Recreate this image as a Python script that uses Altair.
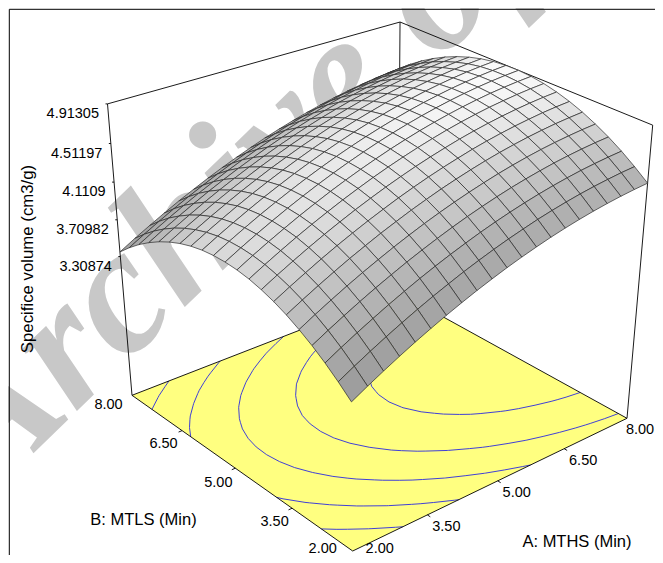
import altair as alt

# response values (cm3/g); rows: A = 2.0 .. 8.0 step 0.3, columns: B = 2.0 .. 8.0 step 0.3
Z = [
[3.299,3.420,3.529,3.625,3.708,3.780,3.839,3.885,3.920,3.941,3.950,3.947,3.932,3.904,3.863,3.810,3.745,3.667,3.578,3.475,3.360],
[3.389,3.509,3.618,3.713,3.796,3.867,3.926,3.972,4.007,4.028,4.037,4.034,4.019,3.991,3.950,3.898,3.833,3.756,3.667,3.565,3.451],
[3.474,3.594,3.702,3.797,3.879,3.950,4.008,4.054,4.089,4.110,4.119,4.116,4.101,4.073,4.033,3.981,3.916,3.839,3.752,3.650,3.536],
[3.556,3.675,3.782,3.877,3.959,4.029,4.088,4.133,4.168,4.188,4.197,4.195,4.180,4.153,4.112,4.061,3.997,3.920,3.833,3.732,3.619],
[3.634,3.752,3.859,3.953,4.034,4.105,4.163,4.208,4.242,4.263,4.272,4.269,4.255,4.228,4.188,4.136,4.073,3.997,3.910,3.810,3.698],
[3.707,3.825,3.931,4.024,4.105,4.175,4.233,4.278,4.312,4.333,4.342,4.339,4.325,4.298,4.258,4.207,4.144,4.069,3.982,3.883,3.771],
[3.777,3.894,4.000,4.093,4.173,4.243,4.300,4.345,4.379,4.400,4.409,4.406,4.392,4.365,4.326,4.275,4.212,4.137,4.052,3.953,3.842],
[3.842,3.958,4.064,4.156,4.236,4.305,4.362,4.407,4.441,4.462,4.471,4.468,4.454,4.427,4.388,4.338,4.276,4.201,4.116,4.018,3.908],
[3.904,4.020,4.124,4.216,4.296,4.365,4.422,4.466,4.500,4.520,4.529,4.527,4.513,4.487,4.448,4.398,4.336,4.262,4.177,4.080,3.970],
[3.961,4.076,4.180,4.272,4.351,4.419,4.476,4.520,4.554,4.574,4.583,4.581,4.567,4.541,4.502,4.453,4.391,4.318,4.234,4.137,4.028],
[4.015,4.129,4.233,4.324,4.402,4.471,4.527,4.571,4.604,4.625,4.634,4.631,4.618,4.592,4.554,4.504,4.443,4.370,4.287,4.190,4.083],
[4.064,4.178,4.281,4.371,4.449,4.517,4.573,4.617,4.650,4.671,4.680,4.677,4.664,4.638,4.600,4.551,4.491,4.418,4.335,4.239,4.132],
[4.109,4.222,4.325,4.415,4.492,4.560,4.615,4.659,4.692,4.713,4.722,4.719,4.706,4.680,4.643,4.594,4.534,4.462,4.380,4.284,4.178],
[4.151,4.264,4.365,4.455,4.532,4.599,4.655,4.698,4.731,4.751,4.760,4.758,4.745,4.720,4.682,4.634,4.574,4.503,4.421,4.326,4.220],
[4.188,4.300,4.401,4.490,4.567,4.634,4.689,4.732,4.765,4.785,4.794,4.792,4.779,4.754,4.717,4.669,4.609,4.538,4.457,4.363,4.258],
[4.221,4.332,4.433,4.521,4.598,4.664,4.719,4.762,4.795,4.815,4.824,4.822,4.809,4.784,4.747,4.700,4.641,4.570,4.489,4.396,4.292],
[4.250,4.361,4.461,4.549,4.625,4.691,4.745,4.788,4.821,4.841,4.850,4.848,4.835,4.810,4.774,4.727,4.668,4.598,4.518,4.425,4.321],
[4.275,4.385,4.485,4.572,4.647,4.713,4.767,4.810,4.842,4.863,4.872,4.869,4.857,4.832,4.796,4.749,4.691,4.622,4.542,4.450,4.347],
[4.296,4.405,4.504,4.591,4.666,4.732,4.786,4.828,4.860,4.880,4.889,4.887,4.875,4.851,4.815,4.768,4.710,4.641,4.562,4.471,4.369],
[4.313,4.422,4.520,4.607,4.681,4.746,4.800,4.842,4.874,4.894,4.903,4.901,4.889,4.865,4.829,4.783,4.726,4.657,4.579,4.488,4.386],
[4.326,4.434,4.532,4.618,4.692,4.757,4.810,4.852,4.884,4.904,4.913,4.911,4.899,4.875,4.840,4.794,4.737,4.669,4.591,4.501,4.400],
]
Z_TICKS = [3.30874, 3.70982, 4.1109, 4.51197, 4.91305]
Z_TICK_TEXT = ["3.30874", "3.70982", "4.1109", "4.51197", "4.91305"]
FACTOR_TICKS = [2.0, 3.5, 5.0, 6.5, 8.0]
FACTOR_TEXT = ["2.00", "3.50", "5.00", "6.50", "8.00"]
CONTOUR_LEVELS = [3.581, 3.854, 4.127, 4.399, 4.672]
Y_TITLE = "Specifice volume (cm3/g)"
A_TITLE = "A: MTHS (Min)"
B_TITLE = "B: MTLS (Min)"
WATERMARK = "Archive of SID"

N = len(Z)
Z_TOP = 4.91305


def project(a, b, z=None):
    """Perspective camera of the 3D box; a, b in minutes, z in cm3/g (None = floor)."""
    u, v = (a - 2) / 6, (b - 2) / 6
    w = 0.0 if z is None else 0.5 + 0.5 * (z - 3.30874) / 1.60431
    d = 1 + 0.12162 * u + 0.13591 * v - 0.1039 * w
    x = (352.7 + 350.56 * u - 202.76 * v - 39.0 * w) / d
    y = (551.0 - 81.83 * u - 101.97 * v - 341.8 * w) / d
    return [round(x, 2), round(y, 2)]


def grid(i):
    return 2 + 0.3 * i


def line(*pts):
    return {"type": "Feature", "properties": {}, "geometry": {"type": "LineString", "coordinates": list(pts)}}


def poly(pts, **props):
    return {"type": "Feature", "properties": props,
            "geometry": {"type": "Polygon", "coordinates": [pts + [pts[0]]]}}


cells = []
for i in range(N - 2, -1, -1):
    for j in range(N - 2, -1, -1):
        gu = ((Z[i + 1][j] + Z[i + 1][j + 1]) - (Z[i][j] + Z[i][j + 1])) / 2 * 20 / 3.2086
        gv = ((Z[i][j + 1] + Z[i + 1][j + 1]) - (Z[i][j] + Z[i + 1][j])) / 2 * 20 / 3.2086
        s = int(251 / (1 + 1.13 * gu ** 2 + 2.03 * gv ** 2) ** 0.5)
        cells.append(poly([
            project(grid(i), grid(j), Z[i][j]),
            project(grid(i + 1), grid(j), Z[i + 1][j]),
            project(grid(i + 1), grid(j + 1), Z[i + 1][j + 1]),
            project(grid(i), grid(j + 1), Z[i][j + 1]),
        ], shade=f"#{s:02x}{s:02x}{s:02x}"))

contours = []
for lv in CONTOUR_LEVELS:
    for i in range(N - 1):
        for j in range(N - 1):
            c = [(i, j), (i + 1, j), (i + 1, j + 1), (i, j + 1)]
            hits = []
            for k in range(4):
                p, q = c[k], c[(k + 1) % 4]
                zp, zq = Z[p[0]][p[1]], Z[q[0]][q[1]]
                if (zp - lv) * (zq - lv) < 0:
                    t = (lv - zp) / (zq - zp)
                    hits.append(project(grid(p[0] + t * (q[0] - p[0])), grid(p[1] + t * (q[1] - p[1]))))
            if len(hits) >= 2:
                contours.append(line(hits[0], hits[1]))

floor = [poly([project(2, 2), project(8, 2), project(8, 8), project(2, 8)])]

box = [
    line(project(8, 8), project(8, 8, Z_TOP)),
    line(project(2, 8), project(2, 8, Z_TOP), project(8, 8, Z_TOP), project(8, 2, Z_TOP), project(8, 2)),
    line(project(2, 2), project(8, 2), project(8, 8), project(2, 8), project(2, 2)),
]
for z in Z_TICKS:
    p = project(2, 8, z)
    box.append(line(p, [p[0] - 2, p[1]]))
for t in FACTOR_TICKS[1:-1]:
    box.append(line(project(t, 2), project(t, 1.93)))
    box.append(line(project(2, t), project(1.93, t)))

frame = [line([9.3, 600], [9.3, 9.3], [700, 9.3])]

labels = []
for z, s in zip(Z_TICKS, Z_TICK_TEXT):
    p = project(2, 8, z)
    labels.append({"lon": p[0] - 8.5, "lat": p[1] + 10, "text": s, "al": "right"})
for t, s in zip(FACTOR_TICKS, FACTOR_TEXT):
    p = project(t, 2)
    off = {2.0: (27, -2), 3.5: (19, 12), 5.0: (19, 12), 6.5: (19, 12), 8.0: (13, 12)}[t]
    labels.append({"lon": p[0] + off[0], "lat": p[1] + off[1], "text": s, "al": "center"})
    p = project(2, t)
    off = {2.0: (-30, -2), 3.5: (-17.5, 14), 5.0: (-17, 15), 6.5: (-18.5, 13), 8.0: (-23.5, 10)}[t]
    labels.append({"lon": p[0] + off[0], "lat": p[1] + off[1], "text": s, "al": "center"})
labels.append({"lon": 577, "lat": 541.5, "text": A_TITLE, "al": "title"})
labels.append({"lon": 143.5, "lat": 520, "text": B_TITLE, "al": "title"})

PROJ = alt.Projection(type="identity", scale=1, translate=[-8, -8]).to_dict()


def shapes(features, **mark):
    return alt.Chart(alt.Data(values=features)).mark_geoshape(**mark).project(**PROJ)


def texts(rows, align, **mark):
    opts = dict(font="Liberation Sans", color="#000000", align=align, baseline="middle")
    opts.update(mark)
    return alt.Chart(alt.Data(values=rows)).mark_text(**opts).encode(
        longitude="lon:Q", latitude="lat:Q", text="text:N").project(**PROJ)


watermark = texts([{"lon": -12, "lat": 497, "text": WATERMARK}], "left", font="Liberation Serif",
                  fontStyle="italic", fontWeight="bold", fontSize=180, color="#c8c8c8",
                  baseline="alphabetic", angle=316)

surface = shapes(cells, stroke="#2a2a2a", strokeWidth=0.7).encode(
    color=alt.Color("properties.shade:N", scale=None))

chart = alt.layer(
    watermark,
    shapes(frame, filled=False, stroke="#000000", strokeWidth=1),
    shapes(floor, fill="#ffff80", stroke=None),
    shapes(contours, filled=False, stroke="#2a2ae0", strokeWidth=0.9),
    shapes(box, filled=False, stroke="#000000", strokeWidth=0.9),
    surface,
    texts([r for r in labels if r["al"] == "right"], "right", fontSize=14.5),
    texts([r for r in labels if r["al"] == "center"], "center", fontSize=14.5),
    texts([r for r in labels if r["al"] == "title"], "center", fontSize=16.5),
    texts([{"lon": 27.5, "lat": 259, "text": Y_TITLE}], "center", fontSize=16.8, angle=270),
).properties(width=647, height=547, padding=0, autosize=alt.AutoSizeParams(type="none"),
             background="#ffffff").configure_view(stroke=None)

chart.save("out.html", embed_options={"renderer": "svg", "actions": False})
